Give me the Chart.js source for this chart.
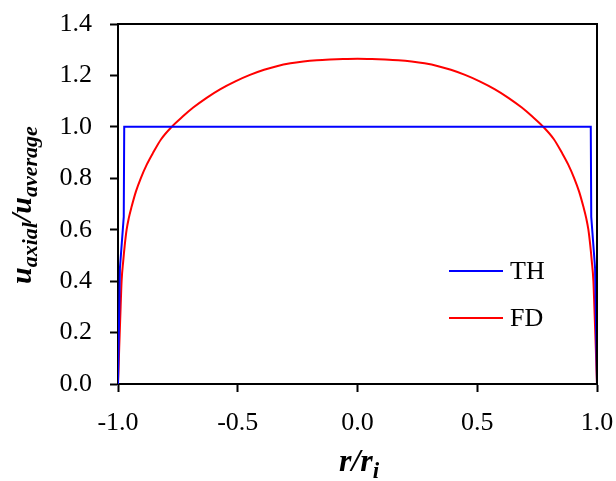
<!DOCTYPE html>
<html>
<head>
<meta charset="utf-8">
<script src="https://cdn.jsdelivr.net/npm/chart.js@4.4.1/dist/chart.umd.min.js"></script>
<style>
    html, body { margin: 0; padding: 0; background: #fff; }
    #wrap { width: 616px; height: 481px; position: relative; }
</style>
</head>
<body>
<div id="wrap"><canvas id="profil"></canvas></div>
<script>
// Données : r/ri et u_axial/u_average
const thX = [-1.0, -0.992, -0.976, -0.974, 0.974, 0.976, 0.992, 1.0];
const thY = [0.0, 0.45, 0.65, 1.0, 1.0, 0.65, 0.45, 0.0];

const fdX = [-1.0, -0.998, -0.995, -0.992, -0.989, -0.985, -0.978, -0.972, -0.964, -0.955,
    -0.943, -0.925, -0.905, -0.88, -0.853, -0.82, -0.776, -0.73, -0.686, -0.63,
    -0.574, -0.51, -0.449, -0.39, -0.337, -0.28, -0.226, -0.17, -0.115, -0.06, 0.0,
    0.06, 0.115, 0.17, 0.226, 0.28, 0.337, 0.39, 0.449, 0.51, 0.574,
    0.63, 0.686, 0.73, 0.776, 0.82, 0.853, 0.88, 0.905, 0.925, 0.943,
    0.955, 0.964, 0.972, 0.978, 0.985, 0.989, 0.992, 0.995, 0.998, 1.0];
const fdY = [0.0, 0.05, 0.14, 0.22, 0.30, 0.40, 0.48, 0.538, 0.60, 0.645,
    0.69, 0.749, 0.80, 0.853, 0.90, 0.952, 1.0, 1.04, 1.075, 1.113,
    1.146, 1.177, 1.202, 1.222, 1.236, 1.247, 1.254, 1.259, 1.262, 1.264, 1.265,
    1.264, 1.262, 1.259, 1.254, 1.247, 1.236, 1.222, 1.202, 1.177, 1.146,
    1.113, 1.075, 1.04, 1.0, 0.952, 0.90, 0.853, 0.80, 0.749, 0.69,
    0.645, 0.60, 0.538, 0.48, 0.40, 0.30, 0.22, 0.14, 0.05, 0.0];

const seriesNames = ['TH', 'FD'];
const seriesColors = ['#0000ff', '#ff0000'];
const xTicks = [-1.0, -0.5, 0.0, 0.5, 1.0];
const yTicks = [0.0, 0.2, 0.4, 0.6, 0.8, 1.0, 1.2, 1.4];

const SERIF = '"Liberation Serif", "Times New Roman", serif';

function toPoints(xs, ys) {
    return xs.map((x, i) => ({ x: x, y: ys[i] }));
}

// Cadre, titres d'axes (avec indices) et légende
const decorations = {
    id: 'decorations',
    afterDraw(chart) {
        const ctx = chart.ctx;
        const area = chart.chartArea;
        ctx.save();

        // cadre haut / droite
        ctx.strokeStyle = '#000';
        ctx.lineWidth = 2;
        ctx.beginPath();
        ctx.moveTo(area.left, area.top);
        ctx.lineTo(area.right, area.top);
        ctx.lineTo(area.right, area.bottom);
        ctx.stroke();

        // texte avec indices
        function drawParts(parts, x, y, mainSize, subSize, subDrop) {
            let cx = x;
            parts.forEach(p => {
                ctx.font = 'bold italic ' + (p.sub ? subSize : mainSize) + 'px ' + SERIF;
                ctx.fillText(p.t, cx, y + (p.sub ? subDrop : 0));
                cx += ctx.measureText(p.t).width;
            });
        }
        ctx.fillStyle = '#000';
        ctx.textBaseline = 'alphabetic';
        ctx.textAlign = 'left';

        // titre axe x : r/ri
        drawParts([{ t: 'r' }, { t: '/' }, { t: 'r' }, { t: 'i', sub: true }], 339, 471, 32, 23, 7);

        // titre axe y : u_axial / u_average
        ctx.save();
        ctx.translate(31, 284);
        ctx.rotate(-Math.PI / 2);
        drawParts([{ t: 'u' }, { t: 'axial', sub: true }, { t: '/' }, { t: 'u' }, { t: 'average', sub: true }], 0, 0, 30, 22, 6);
        ctx.restore();

        // légende
        const legendY = [271, 318];
        chart.data.datasets.forEach((ds, i) => {
            ctx.strokeStyle = ds.borderColor;
            ctx.lineWidth = 2;
            ctx.beginPath();
            ctx.moveTo(449, legendY[i]);
            ctx.lineTo(503, legendY[i]);
            ctx.stroke();
            ctx.fillStyle = '#000';
            ctx.font = '26px ' + SERIF;
            ctx.textBaseline = 'middle';
            ctx.fillText(ds.label, 510, legendY[i] + 1);
        });

        ctx.restore();
    }
};

const ctx = document.getElementById('profil').getContext('2d');
const myChart = new Chart(ctx, {
    type: 'scatter',
    data: {
        datasets: [
            {
                label: seriesNames[0],
                data: toPoints(thX, thY),
                showLine: true,
                borderColor: seriesColors[0],
                borderWidth: 2,
                pointRadius: 0,
                tension: 0
            },
            {
                label: seriesNames[1],
                data: toPoints(fdX, fdY),
                showLine: true,
                borderColor: seriesColors[1],
                borderWidth: 2,
                pointRadius: 0,
                cubicInterpolationMode: 'monotone'
            }
        ]
    },
    options: {
        responsive: true,
        maintainAspectRatio: false,
        animation: false,
        layout: {
            padding: { top: 24, right: 19, left: 0, bottom: 0 }
        },
        plugins: {
            legend: { display: false },
            tooltip: { enabled: false }
        },
        scales: {
            x: {
                type: 'linear',
                min: -1,
                max: 1,
                afterBuildTicks: (scale) => { scale.ticks = xTicks.map(v => ({ value: v })); },
                afterFit: (scale) => {
                    scale.height = 97;
                    scale.paddingLeft = 0;
                    scale.paddingRight = 0;
                },
                ticks: {
                    color: '#000',
                    padding: 16,
                    font: { family: SERIF, size: 26 },
                    callback: (v) => Number(v).toFixed(1)
                },
                grid: {
                    drawOnChartArea: false,
                    drawTicks: true,
                    tickLength: 8,
                    tickWidth: 2,
                    tickColor: '#000'
                },
                border: { color: '#000', width: 2 }
            },
            y: {
                type: 'linear',
                min: 0,
                max: 1.4,
                afterBuildTicks: (scale) => { scale.ticks = yTicks.map(v => ({ value: v })); },
                afterFit: (scale) => {
                    scale.width = 118;
                    scale.paddingTop = 0;
                    scale.paddingBottom = 0;
                },
                ticks: {
                    color: '#000',
                    padding: 18,
                    font: { family: SERIF, size: 26 },
                    callback: (v) => Number(v).toFixed(1)
                },
                grid: {
                    drawOnChartArea: false,
                    drawTicks: true,
                    tickLength: 8,
                    tickWidth: 2,
                    tickColor: '#000'
                },
                border: { color: '#000', width: 2 }
            }
        }
    },
    plugins: [decorations]
});
</script>
</body>
</html>
